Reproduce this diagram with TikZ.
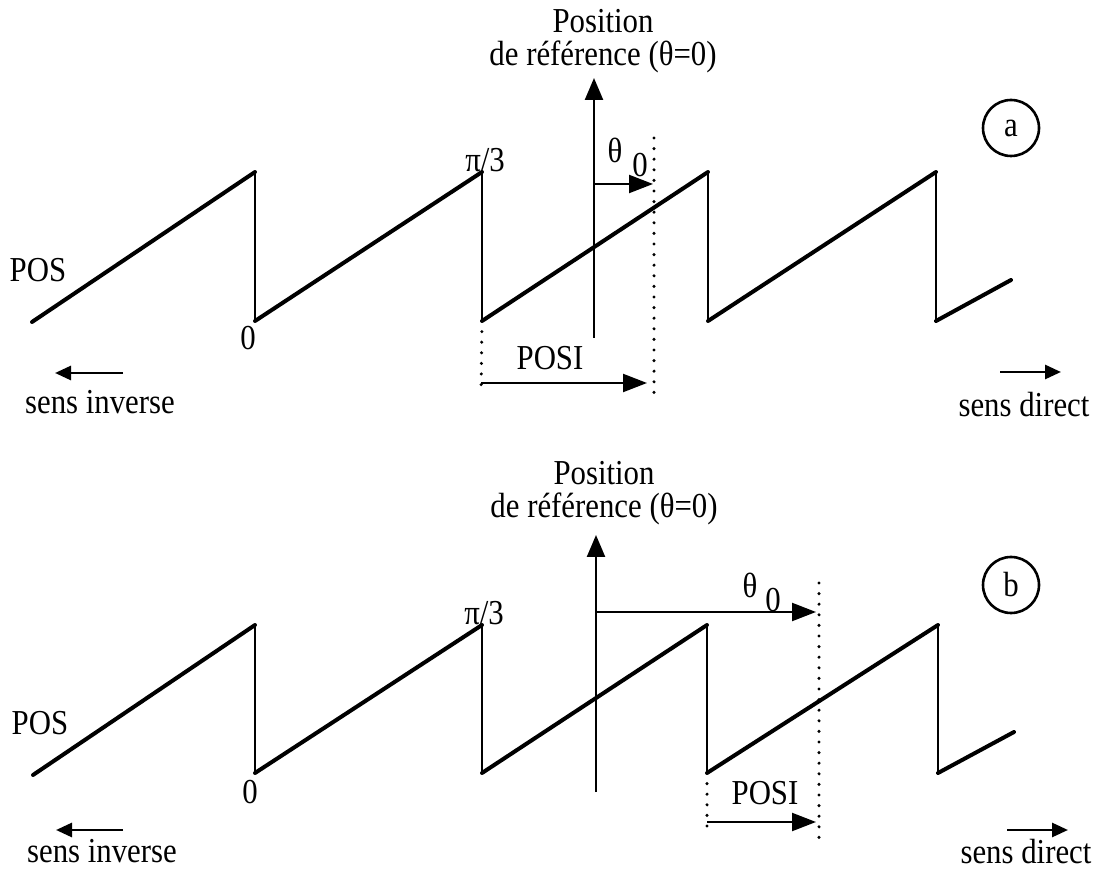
\documentclass[tikz,border=0pt]{standalone}
\usepackage{fontspec}
\setmainfont[FakeStretch=0.88]{Liberation Serif}
\usetikzlibrary{arrows.meta}

\begin{document}
\begin{tikzpicture}[
    x=0.5pt, y=-0.5pt,
    lbl/.style={inner sep=0pt, font=\fontsize{17.5}{16.5}\selectfont},
    ramp/.style={line width=2pt, line cap=round},
    drop/.style={line width=1.2pt},
    guide/.style={line width=1.7pt, line cap=round, dash pattern=on 0pt off 5.3pt},
    axisarr/.style={-{Triangle[length=11pt,width=9pt]}, line width=1.2pt},
    arr/.style={-{Triangle[length=12pt,width=9pt]}, line width=1.1pt},
    sensarr/.style={-{Triangle[length=8pt,width=7pt]}, line width=1.4pt},
    tag/.style={circle, draw, line width=1.3pt, minimum size=28pt, inner sep=0pt, font=\fontsize{17.5}{16.5}\selectfont}
]
\useasboundingbox (0,0) rectangle (1102,870);

% (a)
\coordinate (sa) at (32,322);
\coordinate (ta1) at (255,172); \coordinate (ba1) at (255,321);
\coordinate (ta2) at (482,172); \coordinate (ba2) at (482,321);
\coordinate (ta3) at (708,172); \coordinate (ba3) at (708,321);
\coordinate (ta4) at (936,172); \coordinate (ba4) at (936,321);
\coordinate (ea) at (1011,280);
\draw[ramp] (sa) -- (ta1) (ba1) -- (ta2) (ba2) -- (ta3) (ba3) -- (ta4) (ba4) -- (ea);
\foreach \i in {1,...,4}
    \draw[drop] (ta\i) -- (ba\i);

\node[lbl, align=center] (refa) at (603,41) {Position\\de référence (θ=0)};
\coordinate (refa-foot) at (594,338);
\coordinate (refa-tip) at (594,78);
\draw[axisarr] (refa-foot) -- (refa-tip);

\coordinate (tha-s) at (594,184);
\coordinate (tha-e) at (653,184);
\draw[arr] (tha-s) -- (tha-e);
\node[lbl] (tha) at (615,150) {θ};
\node[lbl] (tha0) at (640,165) {0};

\coordinate (gla-top) at (654,138);
\coordinate (gla-bot) at (654,395);
\draw[guide] (gla-top) -- (gla-bot);
\coordinate (gpa-bot) at (481,395);
\draw[guide] (ba2) -- (gpa-bot);
\coordinate (posia-s) at (481,383);
\coordinate (posia-e) at (647,383);
\draw[arr] (posia-s) -- (posia-e);
\node[lbl] (posia) at (550,358) {POSI};

\node[lbl] (posa) at (38,270) {POS};
\node[lbl] (zeroa) at (248,338) {0};
\node[lbl] (pia) at (485,160) {π/3};

\coordinate (inva-s) at (123,373);
\coordinate (inva-e) at (55,373);
\draw[sensarr] (inva-s) -- (inva-e);
\node[lbl] (inva) at (100,402) {sens inverse};
\coordinate (dira-s) at (1000,372);
\coordinate (dira-e) at (1061,372);
\draw[sensarr] (dira-s) -- (dira-e);
\node[lbl] (dira) at (1024,405) {sens direct};

\node[tag] (taga) at (1011,128) {a};

% (b)
\coordinate (sb) at (33,775);
\coordinate (tb1) at (255,625); \coordinate (bb1) at (255,773);
\coordinate (tb2) at (482,625); \coordinate (bb2) at (482,773);
\coordinate (tb3) at (707,625); \coordinate (bb3) at (707,773);
\coordinate (tb4) at (938,625); \coordinate (bb4) at (938,773);
\coordinate (eb) at (1014,732);
\draw[ramp] (sb) -- (tb1) (bb1) -- (tb2) (bb2) -- (tb3) (bb3) -- (tb4) (bb4) -- (eb);
\foreach \i in {1,...,4}
    \draw[drop] (tb\i) -- (bb\i);

\node[lbl, align=center] (refb) at (604,493) {Position\\de référence (θ=0)};
\coordinate (refb-foot) at (596,792);
\coordinate (refb-tip) at (596,535);
\draw[axisarr] (refb-foot) -- (refb-tip);

\coordinate (thb-s) at (596,612);
\coordinate (thb-e) at (816,612);
\draw[arr] (thb-s) -- (thb-e);
\node[lbl] (thb) at (750,585) {θ};
\node[lbl] (thb0) at (773,600) {0};

\coordinate (glb-top) at (819,583);
\coordinate (glb-bot) at (819,840);
\draw[guide] (glb-top) -- (glb-bot);
\coordinate (gpb-bot) at (707,836);
\draw[guide] (bb3) -- (gpb-bot);
\coordinate (posib-s) at (707,822);
\coordinate (posib-e) at (816,822);
\draw[arr] (posib-s) -- (posib-e);
\node[lbl] (posib) at (765,793) {POSI};

\node[lbl] (posb) at (40,723) {POS};
\node[lbl] (zerob) at (250,792) {0};
\node[lbl] (pib) at (484,613) {π/3};

\coordinate (invb-s) at (123,830);
\coordinate (invb-e) at (56,830);
\draw[sensarr] (invb-s) -- (invb-e);
\node[lbl] (invb) at (102,851) {sens inverse};
\coordinate (dirb-s) at (1007,830);
\coordinate (dirb-e) at (1068,830);
\draw[sensarr] (dirb-s) -- (dirb-e);
\node[lbl] (dirb) at (1026,852) {sens direct};

\node[tag] (tagb) at (1011,585) {b};
\end{tikzpicture}
\end{document}
